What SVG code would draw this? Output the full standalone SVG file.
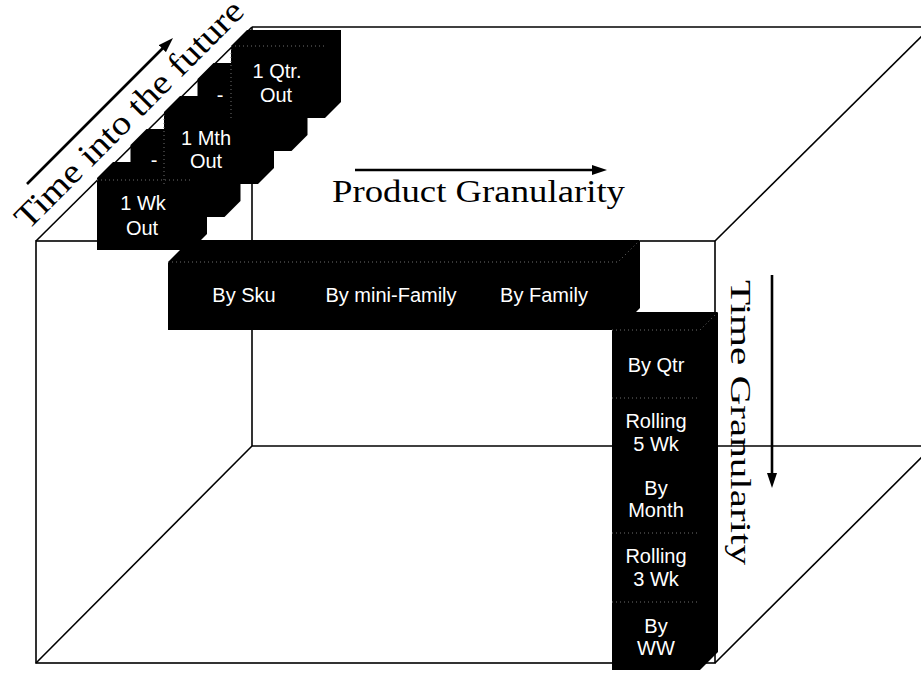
<svg xmlns="http://www.w3.org/2000/svg" width="921" height="674" viewBox="0 0 921 674">
<style>
.edge{stroke:#000;stroke-width:1.6;fill:none}
.blk{fill:#000;stroke:none}
.dot{stroke:#6e6e6e;stroke-width:1;stroke-dasharray:1 3;fill:none}
.lbl{font-family:"Liberation Sans",Arial,sans-serif;font-size:20px;fill:#fff;text-anchor:middle}
.axis{font-family:"Liberation Serif","Times New Roman",serif;fill:#000}
.arr{stroke:#000;stroke-width:2.6;fill:none;marker-end:url(#head)}
</style>
<defs>
<marker id="head" markerUnits="userSpaceOnUse" markerWidth="16" markerHeight="11" refX="3" refY="5" orient="auto">
<path d="M0,0 L15,5 L0,10 z" fill="#000"/>
</marker>
</defs>
<rect width="921" height="674" fill="#fff"/>
<g id="cube">
<rect class="edge" x="36" y="241" width="679" height="422"/>
<line class="edge" x1="252" y1="27" x2="921" y2="27"/>
<line class="edge" x1="252" y1="27" x2="252" y2="446"/>
<line class="edge" x1="252" y1="446" x2="921" y2="446"/>
<line class="edge" x1="36" y1="241" x2="252" y2="27"/>
<line class="edge" x1="36" y1="663" x2="252" y2="446"/>
<line class="edge" x1="715" y1="241" x2="926" y2="32"/>
<line class="edge" x1="715" y1="663" x2="929" y2="450"/>
</g>
<g id="stack">
<g id="block-1qtr">
<polygon class="blk" points="231,46 247,30 341,30 341,102 325,118 231,118"/>
</g>
<g id="block-mid2">
<polygon class="blk" points="197.5,79 213.5,63 307.5,63 307.5,135 291.5,151 197.5,151"/>
</g>
<g id="block-1mth">
<polygon class="blk" points="164,112 180,96 274,96 274,168 258,184 164,184"/>
</g>
<g id="block-mid1">
<polygon class="blk" points="130.5,145 146.5,129 240.5,129 240.5,201 224.5,217 130.5,217"/>
</g>
<g id="block-1wk">
<polygon class="blk" points="97,178 113,162 207,162 207,234 191,250 97,250"/>
</g>
<path class="dot" d="M231,118 V46 H325 M164,184 V112 M97,180 H190"/>
<g id="stack-labels">
<text class="lbl" x="277" y="78">1 Qtr.</text>
<text class="lbl" x="276" y="102">Out</text>
<text class="lbl" x="220" y="102">-</text>
<text class="lbl" x="206" y="145">1 Mth</text>
<text class="lbl" x="206" y="168">Out</text>
<text class="lbl" x="154" y="167">-</text>
<text class="lbl" x="143" y="210">1 Wk</text>
<text class="lbl" x="142" y="235">Out</text>
</g>
</g>
<g id="product-bar">
<polygon class="blk" points="168,262 190,240 640,240 640,308 618,330 168,330"/>
<path class="dot" d="M168,262 H618 L640,240"/>
<text class="lbl" x="244" y="302">By Sku</text>
<text class="lbl" x="391" y="302">By mini-Family</text>
<text class="lbl" x="544" y="302">By Family</text>
</g>
<g id="time-column">
<polygon class="blk" points="612,330 630,312 718,312 718,652 700,670 612,670"/>
<path class="dot" d="M612,330 H700 L718,312 M612,398 H700 M612,533 H700 M612,602 H700"/>
<text class="lbl" x="656" y="372">By Qtr</text>
<text class="lbl" x="656" y="428">Rolling</text>
<text class="lbl" x="656" y="451">5 Wk</text>
<text class="lbl" x="656" y="495">By</text>
<text class="lbl" x="656" y="517">Month</text>
<text class="lbl" x="656" y="563">Rolling</text>
<text class="lbl" x="656" y="586">3 Wk</text>
<text class="lbl" x="656" y="633">By</text>
<text class="lbl" x="656" y="655">WW</text>
</g>
<g id="connectors">
<line class="arr" x1="27" y1="184" x2="164.5" y2="46.5"/>
<line class="arr" x1="355" y1="170" x2="595" y2="170"/>
<line class="arr" x1="772" y1="275" x2="772" y2="476"/>
</g>
<g id="axis-labels">
<text class="axis" font-size="34" transform="translate(28,231) rotate(-45)" textLength="308" lengthAdjust="spacingAndGlyphs">Time into the future</text>
<text class="axis" font-size="32" x="332" y="202" textLength="293" lengthAdjust="spacingAndGlyphs">Product Granularity</text>
<text class="axis" font-size="29" transform="translate(731,280) rotate(90)" textLength="285" lengthAdjust="spacingAndGlyphs">Time Granularity</text>
</g>
</svg>
